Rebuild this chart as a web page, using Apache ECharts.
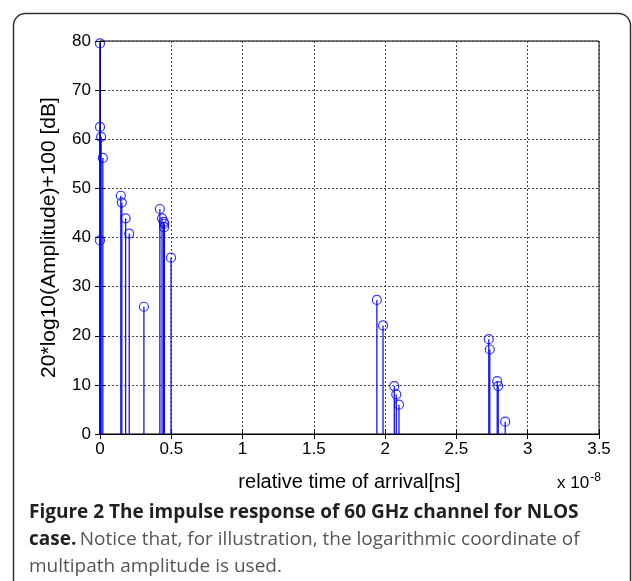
<!DOCTYPE html>
<html>
<head>
<meta charset="utf-8">
<script src="https://cdn.jsdelivr.net/npm/echarts@6/dist/echarts.min.js"></script>
<style>
  html, body { margin: 0; padding: 0; background: #fff; }
  #chart { width: 632px; height: 581px; }
</style>
</head>
<body>
<div id="chart"></div>
<script>
// arrival times (x 1e-8 s) and levels in dB
var times = [0, 0, 0.008, 0.02, 0, 0.146, 0.153, 0.18, 0.205, 0.308,
             0.42, 0.435, 0.447, 0.45, 0.45, 0.498,
             1.942, 1.985, 2.064, 2.078, 2.097,
             2.727, 2.734, 2.786, 2.793, 2.842];
var levels = [79.5, 62.5, 60.5, 56.2, 39.4, 48.5, 47.1, 43.9, 40.8, 25.9,
              45.8, 43.9, 43.2, 42.8, 42.1, 35.9,
              27.3, 22.1, 9.75, 8.05, 5.96,
              19.3, 17.2, 10.76, 9.75, 2.5];
var xTicks = [0, 0.5, 1, 1.5, 2, 2.5, 3, 3.5];
var yTicks = [0, 10, 20, 30, 40, 50, 60, 70, 80];

var pts = [];
for (var i = 0; i < times.length; i++) {
    pts.push([times[i], levels[i]]);
}

var myChart = echarts.init(document.getElementById('chart'));
var tickFont = 'Liberation Sans, Arial, sans-serif';
var gridLine = { show: true, lineStyle: { color: '#444', width: 1, type: [2, 2] } };

var option = {
    animation: false,
    grid: { left: 100, right: 33, top: 41, bottom: 147, show: true, borderColor: '#000', borderWidth: 1 },
    xAxis: [{
        type: 'value', min: 0, max: 3.5, interval: 0.5,
        axisLine: { lineStyle: { color: '#000' } },
        axisTick: { inside: true, length: 5, lineStyle: { color: '#000' } },
        axisLabel: { color: '#000', fontSize: 17, fontFamily: tickFont, margin: 7,
            formatter: function (v) { return xTicks.indexOf(v) >= 0 ? String(v) : ''; } },
        splitLine: gridLine,
        name: 'relative time of arrival[ns]', nameLocation: 'middle', nameGap: 38,
        nameTextStyle: { color: '#000', fontSize: 20, fontFamily: tickFont }
    }, {
        type: 'value', position: 'top', min: 0, max: 3.5, interval: 0.5,
        axisLine: { lineStyle: { color: '#000' } },
        axisTick: { inside: true, length: 5, lineStyle: { color: '#000' } },
        axisLabel: { show: false }, splitLine: { show: false }
    }],
    yAxis: [{
        type: 'value', min: 0, max: 80, interval: 10,
        axisLine: { show: true, lineStyle: { color: '#000' } },
        axisTick: { show: true, inside: true, length: 5, lineStyle: { color: '#000' } },
        axisLabel: { color: '#000', fontSize: 17, fontFamily: tickFont, margin: 9,
            formatter: function (v) { return yTicks.indexOf(v) >= 0 ? String(v) : ''; } },
        splitLine: gridLine,
        name: '20*log10(Amplitude)+100 [dB]', nameLocation: 'middle', nameGap: 40,
        nameTextStyle: { color: '#000', fontSize: 21, fontFamily: tickFont }
    }, {
        type: 'value', position: 'right', min: 0, max: 80, interval: 10,
        axisLine: { show: true, lineStyle: { color: '#000' } },
        axisTick: { show: true, inside: true, length: 5, lineStyle: { color: '#000' } },
        axisLabel: { show: false }, splitLine: { show: false }
    }],
    series: [{
        type: 'custom',
        data: pts,
        renderItem: function (params, api) {
            var top = api.coord([api.value(0), api.value(1)]);
            var base = api.coord([api.value(0), 0]);
            return {
                type: 'line',
                shape: { x1: top[0], y1: top[1], x2: base[0], y2: base[1] },
                style: { stroke: '#0000ff', lineWidth: 1.2 }
            };
        },
        z: 3
    }, {
        type: 'scatter',
        data: pts,
        symbol: 'circle',
        symbolSize: 9,
        itemStyle: { color: 'rgba(0,0,0,0)', borderColor: '#0000ff', borderWidth: 1.2 },
        z: 4
    }],
    graphic: [{
        type: 'rect',
        shape: { x: 13.5, y: 13.5, width: 617, height: 620, r: 12 },
        style: { fill: 'none', stroke: '#333', lineWidth: 1.5 },
        silent: true
    }, {
        type: 'text', x: 557, y: 472,
        style: {
            text: '{a|x 10}{s|-8}',
            rich: {
                a: { fontSize: 17, fontFamily: tickFont, fill: '#000' },
                s: { fontSize: 12, fontFamily: tickFont, fill: '#000', verticalAlign: 'top', padding: [0, 0, 10, 1] }
            }
        }
    }, {
        type: 'text', x: 29, y: 503,
        style: {
            text: 'Figure 2 The impulse response of 60 GHz channel for NLOS',
            font: 'bold 19px "Open Sans", sans-serif', fill: '#231f20'
        }
    }, {
        type: 'text', x: 29, y: 530,
        style: {
            text: '{b|case.} {r|Notice that, for illustration, the logarithmic coordinate of}',
            rich: {
                b: { font: 'bold 19px "Open Sans", sans-serif', fill: '#231f20' },
                r: { font: '19px "Open Sans", sans-serif', fill: '#555' }
            }
        }
    }, {
        type: 'text', x: 29, y: 557,
        style: {
            text: 'multipath amplitude is used.',
            font: '19px "Open Sans", sans-serif', fill: '#555'
        }
    }]
};

myChart.setOption(option);
</script>
</body>
</html>
